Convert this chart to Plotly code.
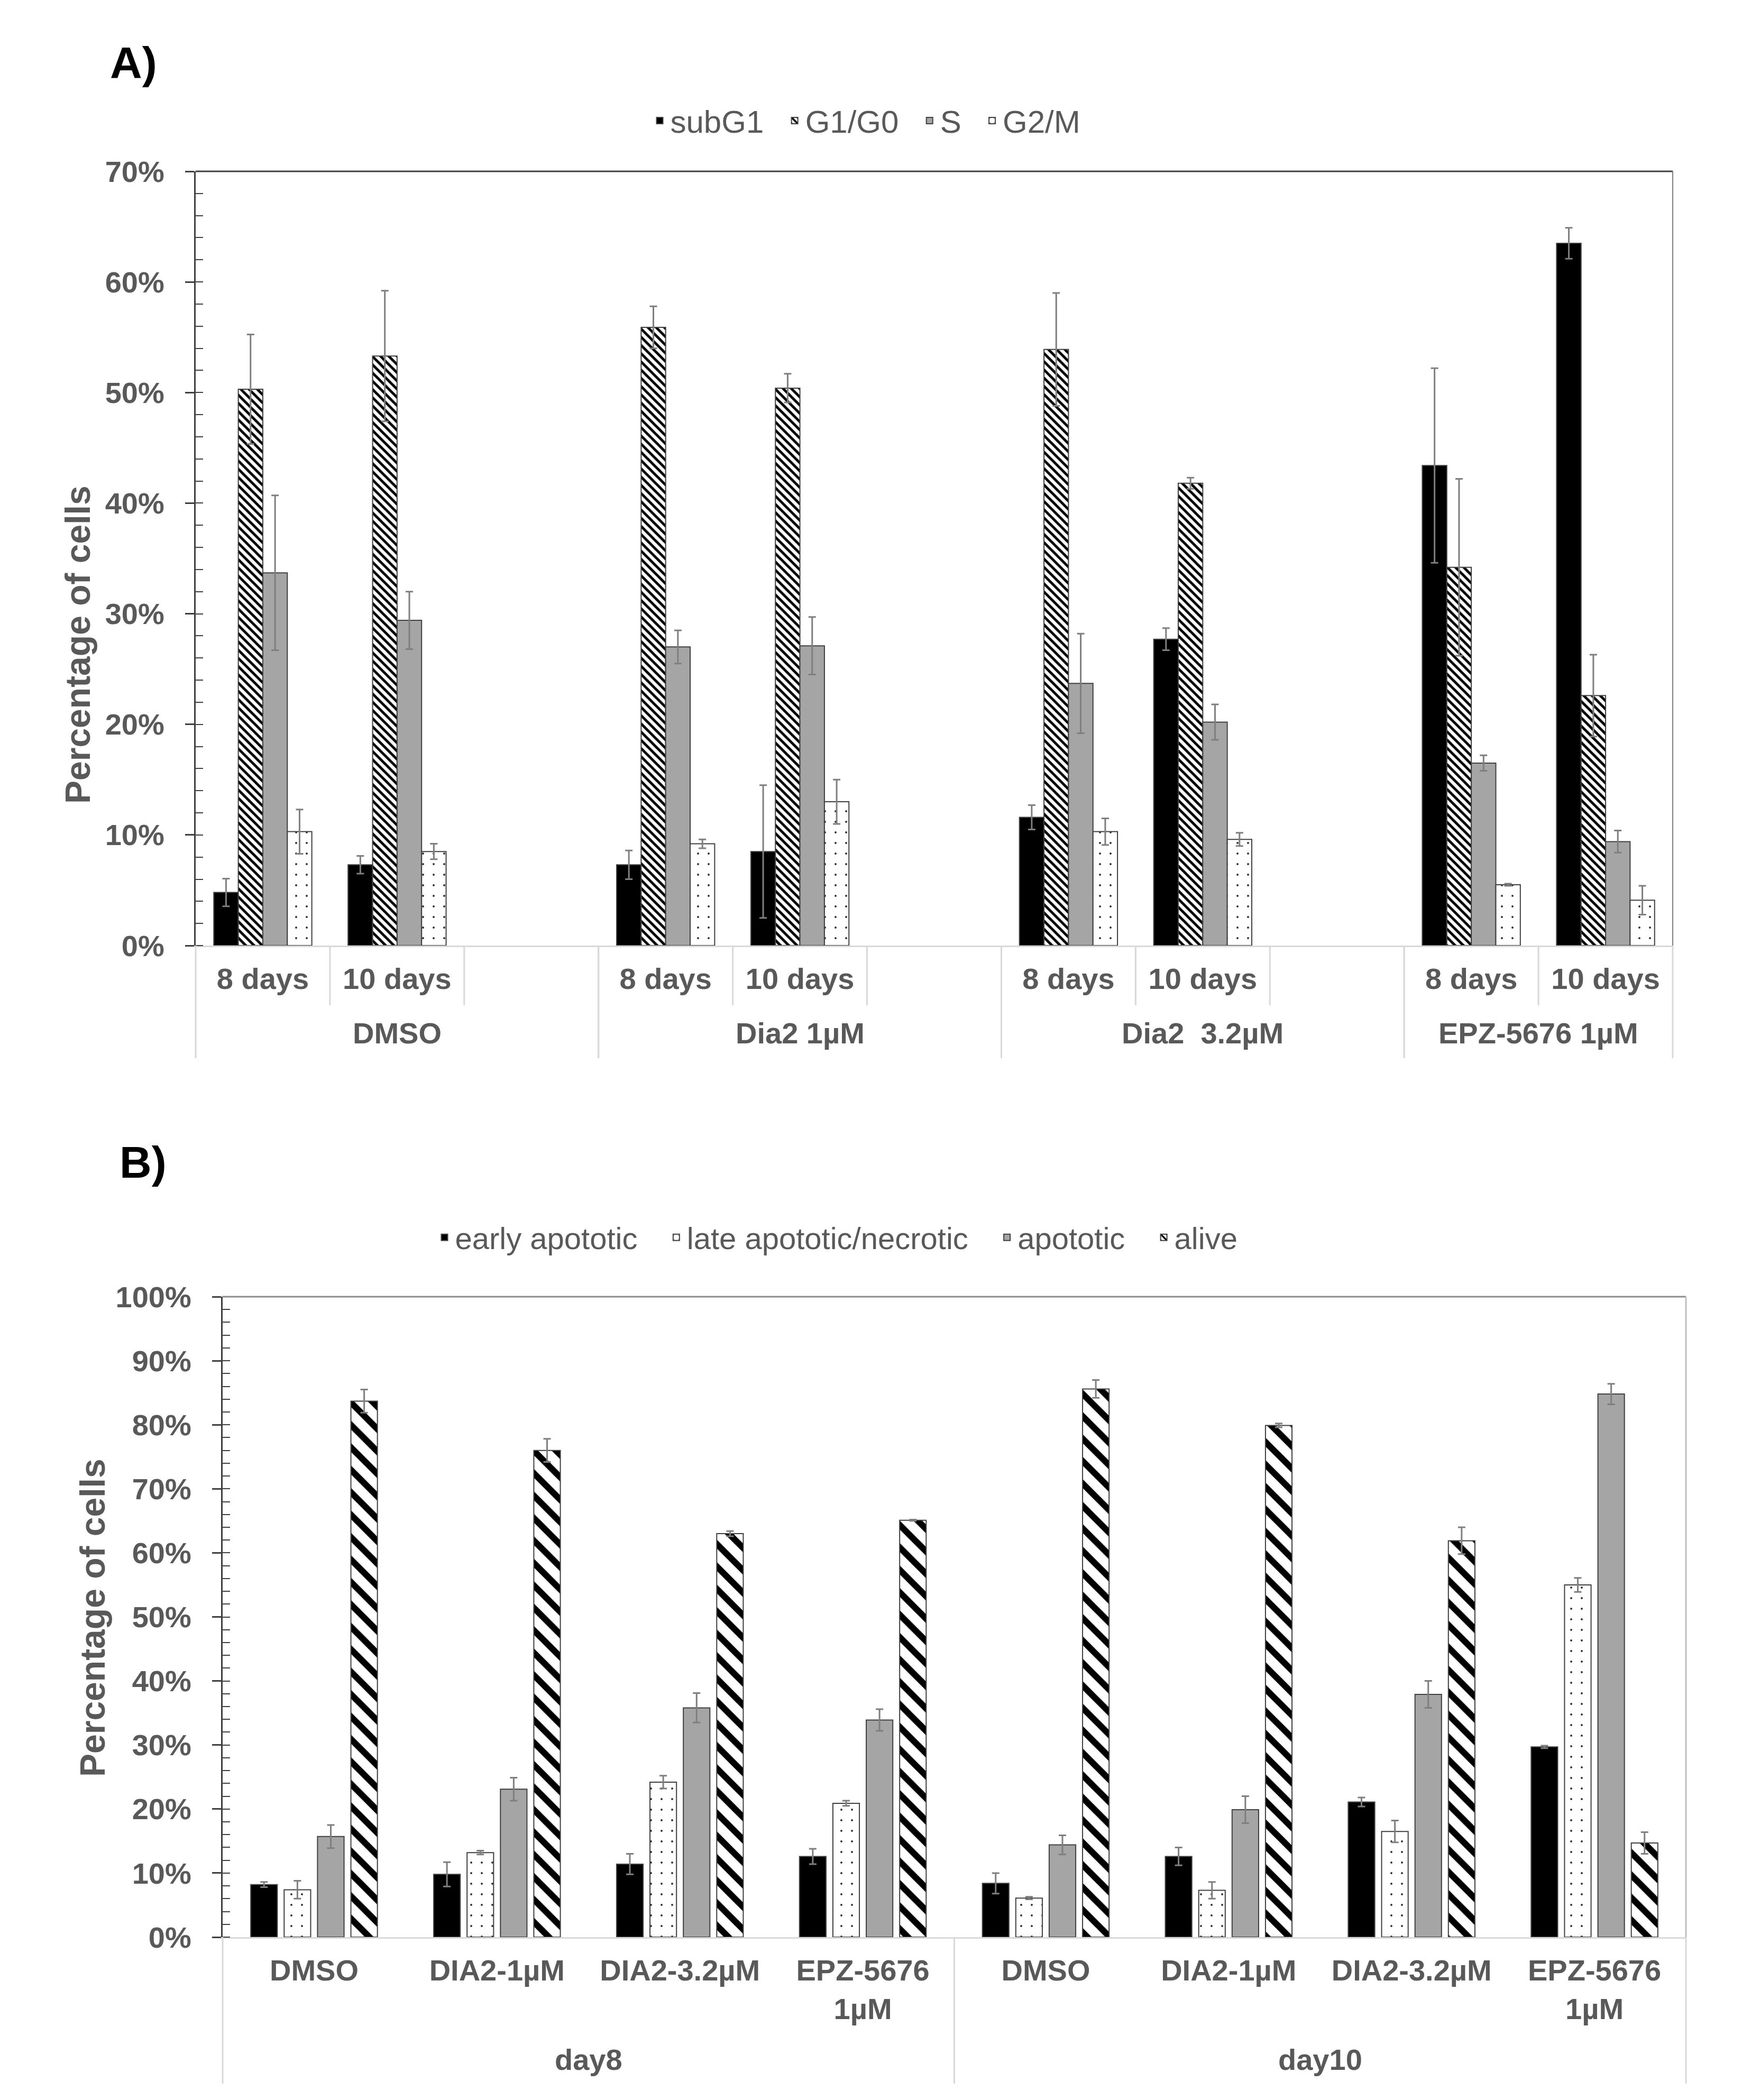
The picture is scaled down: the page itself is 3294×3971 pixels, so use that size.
import plotly.graph_objects as go

# ---------------- panel A: cell cycle ----------------
groups_a = ["DMSO", "Dia2 1µM", "Dia2\u00a0 3.2µM", "EPZ-5676 1µM"]
times_a = ["8 days", "10 days"]

# one value per (group, time), in the order above
subg1 = [4.8, 7.3, 7.3, 8.5, 11.6, 27.7, 43.4, 63.5]
subg1_err = [1.25, 0.8, 1.3, 6.0, 1.1, 1.0, 8.8, 1.4]
g1g0 = [50.3, 53.3, 55.9, 50.4, 53.9, 41.8, 34.2, 22.6]
g1g0_err = [4.95, 5.9, 1.9, 1.3, 5.1, 0.5, 8.0, 3.7]
s_phase = [33.7, 29.4, 27.0, 27.1, 23.7, 20.2, 16.5, 9.4]
s_phase_err = [7.0, 2.6, 1.5, 2.6, 4.5, 1.6, 0.7, 1.0]
g2m = [10.3, 8.5, 9.2, 13.0, 10.3, 9.6, 5.5, 4.1]
g2m_err = [2.0, 0.7, 0.4, 2.0, 1.2, 0.6, 0.1, 1.3]

# ---------------- panel B: apoptosis ----------------
days_b = ["day8", "day10"]
treat_b = ["DMSO", "DIA2-1µM", "DIA2-3.2µM", "EPZ-5676<br>1µM"]

early = [8.2, 9.8, 11.4, 12.6, 8.4, 12.6, 21.1, 29.7]
early_err = [0.4, 1.9, 1.6, 1.2, 1.6, 1.4, 0.7, 0.2]
late = [7.4, 13.2, 24.2, 20.9, 6.1, 7.3, 16.5, 55.0]
late_err = [1.4, 0.3, 1.0, 0.4, 0.2, 1.3, 1.7, 1.1]
apoptotic = [15.7, 23.1, 35.8, 33.9, 14.4, 19.9, 37.9, 84.8]
apoptotic_err = [1.8, 1.8, 2.3, 1.7, 1.5, 2.1, 2.1, 1.6]
alive = [83.7, 76.0, 63.0, 65.1, 85.6, 79.9, 61.9, 14.7]
alive_err = [1.8, 1.8, 0.4, 0.1, 1.4, 0.3, 2.1, 1.7]

W, H = 3294, 3971
FONT = "Liberation Sans"
TXT = "#595959"
DARK = "#404040"
LIGHT = "#d9d9d9"


def slots(groups, subs, spacer):
    '''
    Lay the sub categories of each group out on a numeric axis.
    Returns positions of the filled slots, their labels, the group spans
    and the total number of slots.
    '''
    pos, labels, spans = [], [], []
    k = 0
    for gi, g in enumerate(groups):
        start = k
        for s in subs:
            pos.append(k)
            labels.append(s)
            k += 1
        if spacer and gi < len(groups) - 1:
            k += 1
        spans.append((g, start, k - 1))
    return pos, labels, spans, k


pos_a, lab_a, spans_a, n_a = slots(groups_a, times_a, True)
pos_b, lab_b, spans_b, n_b = slots(days_b, treat_b, False)

solid = lambda c: dict(color=c, line=dict(color=DARK, width=2))
hatch = lambda sz, sol: dict(color="white", line=dict(color=DARK, width=2),
                             pattern=dict(shape="\\", fgcolor="black", bgcolor="white",
                                          size=sz, solidity=sol, fillmode="replace"))
dots = dict(color="white", line=dict(color=DARK, width=2),
            pattern=dict(shape=".", fgcolor="#303030", bgcolor="white",
                         size=20, solidity=0.03, fillmode="replace"))


def err(a):
    return dict(type="data", array=a, color="#7f7f7f", thickness=3, width=7)


fig = go.Figure()

sp = "\u00a0"
series_a = [
    ("subG1" + sp * 2, subg1, subg1_err, solid("black")),
    ("G1/G0" + sp * 2, g1g0, g1g0_err, hatch(11, 0.45)),
    ("S" + sp * 2, s_phase, s_phase_err, solid("#a5a5a5")),
    ("G2/M", g2m, g2m_err, dots),
]
for name, vals, e, marker in series_a:
    fig.add_trace(go.Bar(x=pos_a, y=vals, error_y=err(e), name=name, marker=marker,
                         xaxis="x", yaxis="y", legend="legend"))

series_b = [
    ("early apototic" + sp * 3, early, early_err, solid("black")),
    ("late apototic/necrotic" + sp * 3, late, late_err, dots),
    ("apototic" + sp * 3, apoptotic, apoptotic_err, solid("#a5a5a5")),
    ("alive", alive, alive_err, hatch(30, 0.4)),
]
for name, vals, e, marker in series_b:
    fig.add_trace(go.Bar(x=pos_b, y=vals, error_y=err(e), width=0.145, name=name,
                         marker=marker, xaxis="x2", yaxis="y2", legend="legend2"))

tickfont = dict(family=FONT, size=56, color=TXT, weight="bold")


def yaxis(rng, dom, anchor):
    return dict(domain=dom, range=rng, anchor=anchor, dtick=10, ticksuffix="%",
                tickfont=tickfont, showline=True, linecolor=DARK, linewidth=3,
                ticks="outside", ticklen=17, tickwidth=3, tickcolor=DARK,
                ticklabelstandoff=28,
                minor=dict(ticks="inside", dtick=2, ticklen=14, tickwidth=2, tickcolor=DARK),
                showgrid=False, zeroline=False, automargin=False)


def xaxis(dom, anchor, pos, labels, n):
    return dict(domain=dom, anchor=anchor, range=[-0.5, n - 0.5], tickmode="array",
                tickvals=pos, ticktext=labels, tickfont=tickfont, ticks="",
                ticklabelstandoff=12, showline=True, linecolor=LIGHT, linewidth=3,
                showgrid=False, zeroline=False, automargin=False)


fig.update_layout(
    width=W, height=H,
    margin=dict(l=0, r=0, t=0, b=0),
    paper_bgcolor="white", plot_bgcolor="white",
    font=dict(family=FONT, color=TXT),
    barmode="group", bargap=0.27, bargroupgap=0,
    xaxis=xaxis([362 / W, 3155 / W], "y", pos_a, lab_a, n_a),
    yaxis=yaxis([0, 70], [1 - 1780 / H, 1 - 316 / H], "x"),
    xaxis2=xaxis([413 / W, 3180 / W], "y2", pos_b, lab_b, n_b),
    yaxis2=yaxis([0, 100], [1 - 3655 / H, 1 - 2444 / H], "x2"),
    legend=dict(orientation="h", x=1630 / W, y=1 - 220 / H, xanchor="center",
                yanchor="middle", font=dict(size=60, color=TXT), bgcolor="rgba(0,0,0,0)"),
    legend2=dict(orientation="h", x=1575 / W, y=1 - 2332 / H, xanchor="center",
                 yanchor="middle", font=dict(size=58, color=TXT), bgcolor="rgba(0,0,0,0)"),
    showlegend=True,
)

# panel labels and y titles
for txt, x, y in [("A)", 245, 111), ("B)", 262, 2190)]:
    fig.add_annotation(text=txt, x=x / W, y=1 - y / H, xref="paper", yref="paper",
                       xanchor="center", yanchor="middle", showarrow=False,
                       font=dict(size=84, color="black", weight="bold"))
for x, y in [(139, 1211), (167, 3051)]:
    fig.add_annotation(text="Percentage of cells", x=x / W, y=1 - y / H, xref="paper",
                       yref="paper", xanchor="center", yanchor="middle", textangle=-90,
                       showarrow=False, font=dict(size=66, color=TXT, weight="bold"))

# frame lines (top and right) of both plot areas
fig.add_shape(type="line", xref="x domain", yref="y domain", x0=0, x1=1, y0=1, y1=1,
              line=dict(color=DARK, width=3))
fig.add_shape(type="line", xref="x domain", yref="y domain", x0=1, x1=1, y0=0, y1=1,
              line=dict(color="#808080", width=2))
fig.add_shape(type="line", xref="x2 domain", yref="y2 domain", x0=0, x1=1, y0=1, y1=1,
              line=dict(color="#8c8c8c", width=3))
fig.add_shape(type="line", xref="x2 domain", yref="y2 domain", x0=1, x1=1, y0=0, y1=1,
              line=dict(color="#c0c0c0", width=3))


def category_frame(xname, spans, n, axis_y, label_y, long_y, short_y):
    '''Group labels under the axis plus the Excel-like separator lines.'''
    frac = lambda v: (v + 0.5) / n
    for g, a, b in spans:
        fig.add_annotation(text=g, x=(a + b) / 2, xref=xname, y=1 - label_y / H,
                           yref="paper", yanchor="middle", showarrow=False, font=tickfont)
        for edge in (a - 0.5, b + 0.5):
            fig.add_shape(type="line", xref=xname + " domain", yref="paper",
                          x0=frac(edge), x1=frac(edge), y0=1 - axis_y / H, y1=1 - long_y / H,
                          line=dict(color=LIGHT, width=3))
        if short_y:
            for i in range(a, b):
                fig.add_shape(type="line", xref=xname + " domain", yref="paper",
                              x0=frac(i + 0.5), x1=frac(i + 0.5), y0=1 - axis_y / H,
                              y1=1 - short_y / H, line=dict(color=LIGHT, width=3))


category_frame("x", spans_a, n_a, 1780, 1945, 1993, 1893)
category_frame("x2", spans_b, n_b, 3655, 3886, 3932, None)

fig.write_html("out.html")
